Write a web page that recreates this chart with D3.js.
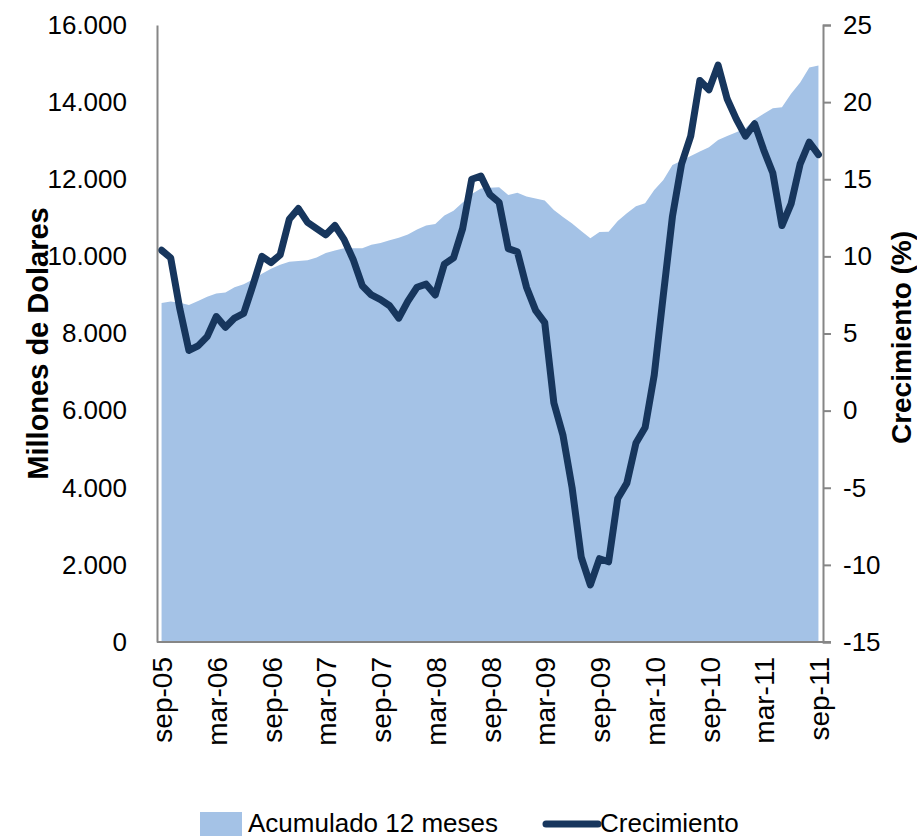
<!DOCTYPE html>
<html>
<head>
<meta charset="utf-8">
<script src="https://cdn.jsdelivr.net/npm/d3@7"></script>
<style>
  body { margin: 0; background: #fff; }
  svg { display: block; font-family: "Liberation Sans", Arial, sans-serif; }
</style>
</head>
<body>
<svg id="grafico" width="917" height="838"></svg>
<script>
// meses (sep-05 a sep-11)
var meses = ["sep-05","oct-05","nov-05","dic-05",
  "ene-06","feb-06","mar-06","abr-06","may-06","jun-06","jul-06","ago-06","sep-06","oct-06","nov-06","dic-06",
  "ene-07","feb-07","mar-07","abr-07","may-07","jun-07","jul-07","ago-07","sep-07","oct-07","nov-07","dic-07",
  "ene-08","feb-08","mar-08","abr-08","may-08","jun-08","jul-08","ago-08","sep-08","oct-08","nov-08","dic-08",
  "ene-09","feb-09","mar-09","abr-09","may-09","jun-09","jul-09","ago-09","sep-09","oct-09","nov-09","dic-09",
  "ene-10","feb-10","mar-10","abr-10","may-10","jun-10","jul-10","ago-10","sep-10","oct-10","nov-10","dic-10",
  "ene-11","feb-11","mar-11","abr-11","may-11","jun-11","jul-11","ago-11","sep-11"];

// Acumulado 12 meses (millones de dolares)
var acumulado = [8790,8830,8800,8740,8840,8950,9040,9060,9200,9280,9400,9550,9680,9780,9860,9880,
  9900,9970,10090,10150,10210,10210,10210,10300,10350,10420,10480,10570,10700,10800,10840,11060,
  11180,11400,11620,11760,11780,11790,11590,11650,11550,11500,11450,11200,11020,10850,10660,10470,
  10630,10640,10920,11120,11300,11380,11720,11980,12370,12480,12600,12720,12830,13020,13120,13220,
  13320,13550,13700,13840,13870,14220,14510,14900,14950];

// Crecimiento (%)
var crecimiento = [10.4,9.9,6.6,3.9,4.2,4.8,6.1,5.4,6.0,6.3,8.1,10.0,9.6,10.1,12.4,13.1,
  12.2,11.8,11.4,12.0,11.1,9.8,8.1,7.5,7.2,6.8,6.0,7.1,8.0,8.2,7.5,9.5,
  9.9,11.8,15.0,15.2,14.0,13.5,10.5,10.3,8.0,6.5,5.7,0.5,-1.6,-5.0,-9.5,-11.3,
  -9.6,-9.8,-5.7,-4.7,-2.1,-1.1,2.3,7.5,12.6,16.0,17.8,21.4,20.8,22.4,20.2,18.9,
  17.8,18.6,16.9,15.4,12.0,13.4,16.0,17.4,16.6];

var ticksIzq = [0,2000,4000,6000,8000,10000,12000,14000,16000];
var ticksDer = [-15,-10,-5,0,5,10,15,20,25];
var etiquetasX = ["sep-05","mar-06","sep-06","mar-07","sep-07","mar-08","sep-08","mar-09","sep-09","mar-10","sep-10","mar-11","sep-11"];

var izq = 157, der = 823, arriba = 25, abajo = 642;
var svg = d3.select("#grafico");

var x = d3.scalePoint().domain(meses).range([izq, der]).padding(0.5);
var yIzq = d3.scaleLinear().domain([0, 16000]).range([abajo, arriba]);
var yDer = d3.scaleLinear().domain([-15, 25]).range([abajo, arriba]);

var locale = d3.formatLocale({decimal: ",", thousands: ".", grouping: [3], currency: ["", ""], minus: "-"});
var fmtMiles = locale.format(",d");
var fmtPct = locale.format("d");

// area acumulado
var area = d3.area()
  .x(function (d, i) { return x(meses[i]); })
  .y0(abajo)
  .y1(function (d) { return yIzq(d); });
svg.append("path").datum(acumulado)
  .attr("d", area)
  .attr("fill", "#a4c2e6");

// linea crecimiento
var linea = d3.line()
  .x(function (d, i) { return x(meses[i]); })
  .y(function (d) { return yDer(d); });
svg.append("path").datum(crecimiento)
  .attr("d", linea)
  .attr("fill", "none")
  .attr("stroke", "#17365d")
  .attr("stroke-width", 7)
  .attr("stroke-linejoin", "round")
  .attr("stroke-linecap", "round");

// eje izquierdo
var ejeIzq = svg.append("g").attr("transform", "translate(" + izq + ",0)")
  .call(d3.axisLeft(yIzq).tickValues(ticksIzq).tickFormat(fmtMiles).tickSize(0).tickPadding(30));
// eje derecho
var ejeDer = svg.append("g").attr("transform", "translate(" + der + ",0)")
  .call(d3.axisRight(yDer).tickValues(ticksDer).tickFormat(fmtPct).tickSize(8).tickPadding(12));
// eje x
var ejeX = svg.append("g").attr("transform", "translate(0," + abajo + ")")
  .call(d3.axisBottom(x).tickValues(etiquetasX).tickSize(0).tickPadding(0));
ejeX.select(".domain").attr("d", "M" + izq + ",0H" + (der + 8));

[ejeIzq, ejeDer, ejeX].forEach(function (g) {
  g.selectAll(".domain").attr("stroke", "#868686").attr("stroke-width", 2);
  g.selectAll(".tick line").attr("stroke", "#868686").attr("stroke-width", 2);
  g.selectAll("text").attr("font-size", 26).attr("fill", "#000")
    .attr("font-family", "'Liberation Sans', Arial, sans-serif");
});
ejeX.selectAll("text")
  .attr("transform", "translate(0,15) rotate(-90)")
  .attr("text-anchor", "end")
  .attr("font-size", 28)
  .attr("x", 0).attr("y", 0).attr("dy", "0.36em");

// titulos de ejes
svg.append("text")
  .attr("transform", "translate(48," + ((arriba + abajo) / 2 + 10) + ") rotate(-90)")
  .attr("text-anchor", "middle")
  .attr("font-size", 29).attr("font-weight", "bold")
  .text("Millones de Dolares");
svg.append("text")
  .attr("transform", "translate(911," + ((arriba + abajo) / 2 + 4) + ") rotate(-90)")
  .attr("text-anchor", "middle")
  .attr("font-size", 28).attr("font-weight", "bold")
  .text("Crecimiento (%)");

// leyenda
var ley = svg.append("g");
ley.append("rect").attr("x", 200).attr("y", 812).attr("width", 42).attr("height", 24).attr("fill", "#a4c2e6");
ley.append("text").attr("x", 248).attr("y", 832).attr("font-size", 26).text("Acumulado 12 meses");
ley.append("line").attr("x1", 546).attr("x2", 598).attr("y1", 824).attr("y2", 824)
  .attr("stroke", "#17365d").attr("stroke-width", 7).attr("stroke-linecap", "round");
ley.append("text").attr("x", 600).attr("y", 832).attr("font-size", 26).text("Crecimiento");
</script>
</body>
</html>
